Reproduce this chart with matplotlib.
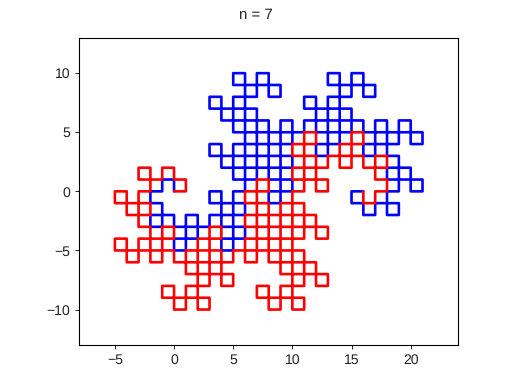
import matplotlib
matplotlib.use("Agg")
import matplotlib.pyplot as plt

title_text = "n = 7"
x_ticks = [-5, 0, 5, 10, 15, 20]
y_ticks = [-10, -5, 0, 5, 10]

red_x = [0,1,1,0,0,-1,-1,-2,-2,-3,-3,-2,-2,-3,-3,-4,-4,
-5,-5,-4,-4,-3,-3,-2,-2,-3,-3,-2,-2,-3,-3,-4,-4,
-5,-5,-4,-4,-3,-3,-2,-2,-1,-1,-2,-2,-1,-1,0,0,
-1,-1,0,0,1,1,2,2,1,1,2,2,1,1,0,0,
-1,-1,0,0,1,1,2,2,3,3,2,2,3,3,4,4,
5,5,4,4,3,3,2,2,3,3,2,2,3,3,4,4,
3,3,4,4,5,5,6,6,7,7,6,6,7,7,8,8,
7,7,8,8,9,9,10,10,9,9,10,10,9,9,8,8,
7,7,8,8,9,9,10,10,11,11,10,10,11,11,12,12,
13,13,12,12,11,11,10,10,11,11,10,10,11,11,12,12,
13,13,12,12,11,11,10,10,9,9,10,10,9,9,8,8,
9,9,8,8,7,7,6,6,7,7,6,6,7,7,8,8,
7,7,8,8,9,9,10,10,11,11,10,10,11,11,12,12,
13,13,12,12,11,11,10,10,11,11,10,10,11,11,12,12,
11,11,12,12,13,13,14,14,15,15,14,14,15,15,16,16,
15,15,16,16,17,17,18,18,17,17,18,18,17,17,16,16]

red_y = [0,0,1,1,2,2,1,1,2,2,1,1,0,0,-1,-1,0,
0,-1,-1,-2,-2,-1,-1,-2,-2,-3,-3,-4,-4,-5,-5,-4,
-4,-5,-5,-6,-6,-5,-5,-6,-6,-5,-5,-4,-4,-3,-3,-4,
-4,-5,-5,-6,-6,-5,-5,-6,-6,-7,-7,-8,-8,-9,-9,-8,
-8,-9,-9,-10,-10,-9,-9,-10,-10,-9,-9,-8,-8,-7,-7,-8,
-8,-7,-7,-6,-6,-7,-7,-6,-6,-5,-5,-4,-4,-3,-3,-4,
-4,-5,-5,-6,-6,-5,-5,-6,-6,-5,-5,-4,-4,-3,-3,-4,
-4,-5,-5,-6,-6,-5,-5,-6,-6,-7,-7,-8,-8,-9,-9,-8,
-8,-9,-9,-10,-10,-9,-9,-10,-10,-9,-9,-8,-8,-7,-7,-8,
-8,-7,-7,-6,-6,-7,-7,-6,-6,-5,-5,-4,-4,-3,-3,-4,
-4,-3,-3,-2,-2,-3,-3,-2,-2,-3,-3,-4,-4,-5,-5,-4,
-4,-3,-3,-2,-2,-3,-3,-2,-2,-1,-1,0,0,1,1,0,
0,-1,-1,-2,-2,-1,-1,-2,-2,-1,-1,0,0,1,1,0,
0,1,1,2,2,1,1,2,2,3,3,4,4,5,5,4,
4,3,3,2,2,3,3,2,2,3,3,4,4,5,5,4,
4,3,3,2,2,3,3,2,2,1,1,0,0,-1,-1,0]

blue_x = [16,15,15,16,16,17,17,18,18,19,19,18,18,19,19,20,20,
21,21,20,20,19,19,18,18,19,19,18,18,19,19,20,20,
21,21,20,20,19,19,18,18,17,17,18,18,17,17,16,16,
17,17,16,16,15,15,14,14,15,15,14,14,15,15,16,16,
17,17,16,16,15,15,14,14,13,13,14,14,13,13,12,12,
11,11,12,12,13,13,14,14,13,13,14,14,13,13,12,12,
13,13,12,12,11,11,10,10,9,9,10,10,9,9,8,8,
9,9,8,8,7,7,6,6,7,7,6,6,7,7,8,8,
9,9,8,8,7,7,6,6,5,5,6,6,5,5,4,4,
3,3,4,4,5,5,6,6,5,5,6,6,5,5,4,4,
3,3,4,4,5,5,6,6,7,7,6,6,7,7,8,8,
7,7,8,8,9,9,10,10,9,9,10,10,9,9,8,8,
9,9,8,8,7,7,6,6,5,5,6,6,5,5,4,4,
3,3,4,4,5,5,6,6,5,5,6,6,5,5,4,4,
5,5,4,4,3,3,2,2,1,1,2,2,1,1,0,0,
1,1,0,0,-1,-1,-2,-2,-1,-1,-2,-2,-1,-1,0,0]

blue_y = [0,0,-1,-1,-2,-2,-1,-1,-2,-2,-1,-1,0,0,1,1,0,
0,1,1,2,2,1,1,2,2,3,3,4,4,5,5,4,
4,5,5,6,6,5,5,6,6,5,5,4,4,3,3,4,
4,5,5,6,6,5,5,6,6,7,7,8,8,9,9,8,
8,9,9,10,10,9,9,10,10,9,9,8,8,7,7,8,
8,7,7,6,6,7,7,6,6,5,5,4,4,3,3,4,
4,5,5,6,6,5,5,6,6,5,5,4,4,3,3,4,
4,5,5,6,6,5,5,6,6,7,7,8,8,9,9,8,
8,9,9,10,10,9,9,10,10,9,9,8,8,7,7,8,
8,7,7,6,6,7,7,6,6,5,5,4,4,3,3,4,
4,3,3,2,2,3,3,2,2,3,3,4,4,5,5,4,
4,3,3,2,2,3,3,2,2,1,1,0,0,-1,-1,0,
0,1,1,2,2,1,1,2,2,1,1,0,0,-1,-1,0,
0,-1,-1,-2,-2,-1,-1,-2,-2,-3,-3,-4,-4,-5,-5,-4,
-4,-3,-3,-2,-2,-3,-3,-2,-2,-3,-3,-4,-4,-5,-5,-4,
-4,-3,-3,-2,-2,-3,-3,-2,-2,-1,-1,0,0,1,1,0]

plt.rcParams['font.family'] = ['Liberation Sans', 'DejaVu Sans']
plt.rcParams['text.hinting'] = 'none'
plt.rcParams['text.hinting_factor'] = 1
fig = plt.figure(figsize=(5.12, 3.84), dpi=100)
ax = fig.add_axes([79.4/512, 1-345.0/384, (458-79.4)/512, (345.0-37.7)/384])
ax.plot(blue_x, blue_y, color='blue', lw=1.9, solid_joinstyle='round', solid_capstyle='round', snap=False)
ax.plot(red_x, red_y, color='red', lw=1.9, solid_joinstyle='round', solid_capstyle='round', snap=False)
ax.set_xlim(-8, 24)
ax.set_ylim(-13, 13)
ax.set_xticks(x_ticks)
ax.set_yticks(y_ticks)
ax.tick_params(labelsize=10, length=3, width=0.7, color='#222222', labelcolor='#222222')
for s in ax.spines.values():
    s.set_linewidth(0.8)
fig.text(0.5, 1-15.5/384, title_text, ha='center', va='center', fontsize=10.8, color='#222222')
fig.savefig('out.png', dpi=100)
